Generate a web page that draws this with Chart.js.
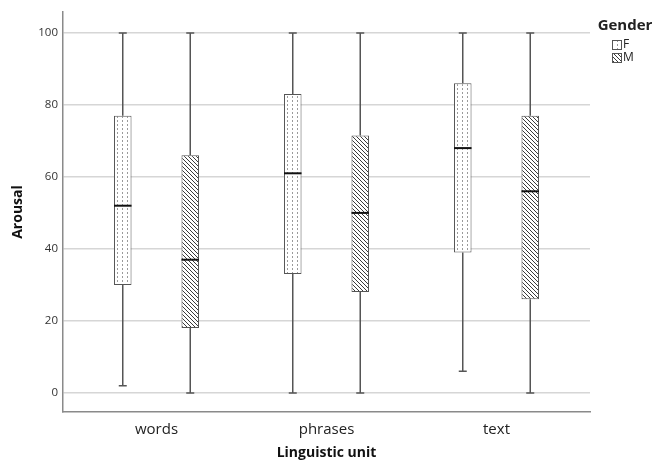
<!DOCTYPE html>
<html>
<head>
<meta charset="utf-8">
<script src="https://cdn.jsdelivr.net/npm/chart.js@4/dist/chart.umd.min.js"></script>
<style>
  html, body { margin: 0; padding: 0; background: #fff; }
</style>
</head>
<body>
<canvas id="chart" width="652" height="462"></canvas>
<script>
// categories + tick values
const units = ['words', 'phrases', 'text'];
const genders = ['F', 'M'];
const yTicks = [0, 20, 40, 60, 80, 100];

// box stats per gender (min, q1, median, q3, max)
const fMin = [2, 0, 6];
const fQ1  = [30, 33, 39];
const fMed = [52, 61, 68];
const fQ3  = [77, 83, 86];
const fMax = [100, 100, 100];

const mMin = [0, 0, 0];
const mQ1  = [18, 28, 26];
const mMed = [37, 50, 56];
const mQ3  = [66, 71.5, 77];
const mMax = [100, 100, 100];

const FONT = '"Open Sans", "DejaVu Sans", sans-serif';

// dotted fill for F
function dotPattern() {
  const c = document.createElement('canvas');
  c.width = 5; c.height = 4;
  const g = c.getContext('2d');
  g.fillStyle = '#fff';
  g.fillRect(0, 0, 5, 4);
  g.fillStyle = '#9a9a9a';
  g.fillRect(2, 0, 1, 2);
  return g.createPattern(c, 'repeat');
}

// diagonal hatch for M
function hatchPattern() {
  const c = document.createElement('canvas');
  c.width = 4; c.height = 4;
  const g = c.getContext('2d');
  g.fillStyle = '#fff';
  g.fillRect(0, 0, 4, 4);
  g.strokeStyle = '#3a3a3a';
  g.lineWidth = 1;
  [-4, 0, 4].forEach(k => {
    g.beginPath();
    g.moveTo(k, 0);
    g.lineTo(k + 4, 4);
    g.stroke();
  });
  return g.createPattern(c, 'repeat');
}

const fills = [dotPattern(), hatchPattern()];

// whiskers + medians drawn over the floating bars
const whiskers = {
  id: 'whiskers',
  afterDatasetsDraw(chart) {
    const ctx = chart.ctx;
    const y = chart.scales.y;
    chart.data.datasets.forEach((ds, d) => {
      const meta = chart.getDatasetMeta(d);
      const w = ds.whisker;
      meta.data.forEach((bar, i) => {
        const x = bar.x;
        const hw = bar.width / 2;
        const pMax = y.getPixelForValue(w.max[i]);
        const pMin = y.getPixelForValue(w.min[i]);
        const pQ3 = y.getPixelForValue(ds.data[i].y[1]);
        const pQ1 = y.getPixelForValue(ds.data[i].y[0]);
        const pMed = y.getPixelForValue(w.med[i]);
        ctx.save();
        ctx.strokeStyle = '#555';
        ctx.lineWidth = 1.5;
        ctx.beginPath();
        ctx.moveTo(x, pMax); ctx.lineTo(x, pQ3);
        ctx.moveTo(x, pQ1); ctx.lineTo(x, pMin);
        ctx.moveTo(x - 4, pMax); ctx.lineTo(x + 4, pMax);
        ctx.moveTo(x - 4, pMin); ctx.lineTo(x + 4, pMin);
        ctx.stroke();
        ctx.strokeStyle = '#111';
        ctx.lineWidth = 2;
        ctx.beginPath();
        ctx.moveTo(x - hw, pMed); ctx.lineTo(x + hw, pMed);
        ctx.stroke();
        ctx.restore();
      });
    });
  }
};

// legend on the right: "Gender" + pattern swatches
const sideLegend = {
  id: 'sideLegend',
  afterDraw(chart) {
    const ctx = chart.ctx;
    ctx.save();
    ctx.fillStyle = '#222';
    ctx.font = 'bold 15px ' + FONT;
    ctx.textAlign = 'center';
    ctx.textBaseline = 'middle';
    ctx.fillText('Gender', 625, 26);
    chart.data.datasets.forEach((ds, d) => {
      const top = 40 + d * 13;
      ctx.fillStyle = ds.backgroundColor;
      ctx.fillRect(612, top, 9, 9);
      ctx.strokeStyle = '#555';
      ctx.lineWidth = 1;
      ctx.strokeRect(612.5, top + 0.5, 9, 9);
      ctx.fillStyle = '#222';
      ctx.font = '12px ' + FONT;
      ctx.textAlign = 'left';
      ctx.fillText(ds.label, 623, top + 5);
    });
    ctx.restore();
  }
};

new Chart(document.getElementById('chart'), {
  type: 'bar',
  data: {
    datasets: [
      {
        label: genders[0],
        data: units.map((u, i) => ({ x: i, y: [fQ1[i], fQ3[i]] })),
        backgroundColor: fills[0],
        whisker: { min: fMin, med: fMed, max: fMax }
      },
      {
        label: genders[1],
        data: units.map((u, i) => ({ x: i, y: [mQ1[i], mQ3[i]] })),
        backgroundColor: fills[1],
        whisker: { min: mMin, med: mMed, max: mMax }
      }
    ]
  },
  options: {
    responsive: false,
    animation: false,
    layout: { padding: { top: 12, right: 62, bottom: 0, left: 0 } },
    datasets: {
      bar: {
        borderColor: '#555',
        borderWidth: 1,
        borderSkipped: false,
        categoryPercentage: 0.794,
        barPercentage: 0.26
      }
    },
    plugins: {
      legend: { display: false },
      tooltip: { enabled: false }
    },
    scales: {
      x: {
        type: 'linear',
        offset: false,
        min: -0.55,
        max: 2.55,
        afterBuildTicks: s => { s.ticks = units.map((u, i) => ({ value: i })); },
        afterFit: s => { s.height = 50; },
        grid: { display: false, drawTicks: false, offset: false },
        border: { color: '#8a8a8a', width: 1.5 },
        ticks: {
          callback: v => units[v],
          color: '#222',
          padding: 9,
          maxRotation: 0,
          font: { family: FONT, size: 15 }
        },
        title: {
          display: true,
          text: 'Linguistic unit',
          color: '#111',
          padding: { top: 0, bottom: 1 },
          font: { family: FONT, size: 14, weight: 'bold' }
        }
      },
      y: {
        min: -5.3,
        max: 105.8,
        afterBuildTicks: s => { s.ticks = yTicks.map(v => ({ value: v })); },
        afterFit: s => { s.width = 63; },
        grid: { color: '#d6d6d6', lineWidth: 1.5, drawTicks: false },
        border: { color: '#8a8a8a', width: 1.5 },
        ticks: {
          color: '#333',
          padding: 5,
          font: { family: FONT, size: 11.5 }
        },
        title: {
          display: true,
          text: 'Arousal',
          color: '#111',
          padding: { top: 10, bottom: 0 },
          font: { family: FONT, size: 14, weight: 'bold' }
        }
      }
    }
  },
  plugins: [whiskers, sideLegend]
});
</script>
</body>
</html>
